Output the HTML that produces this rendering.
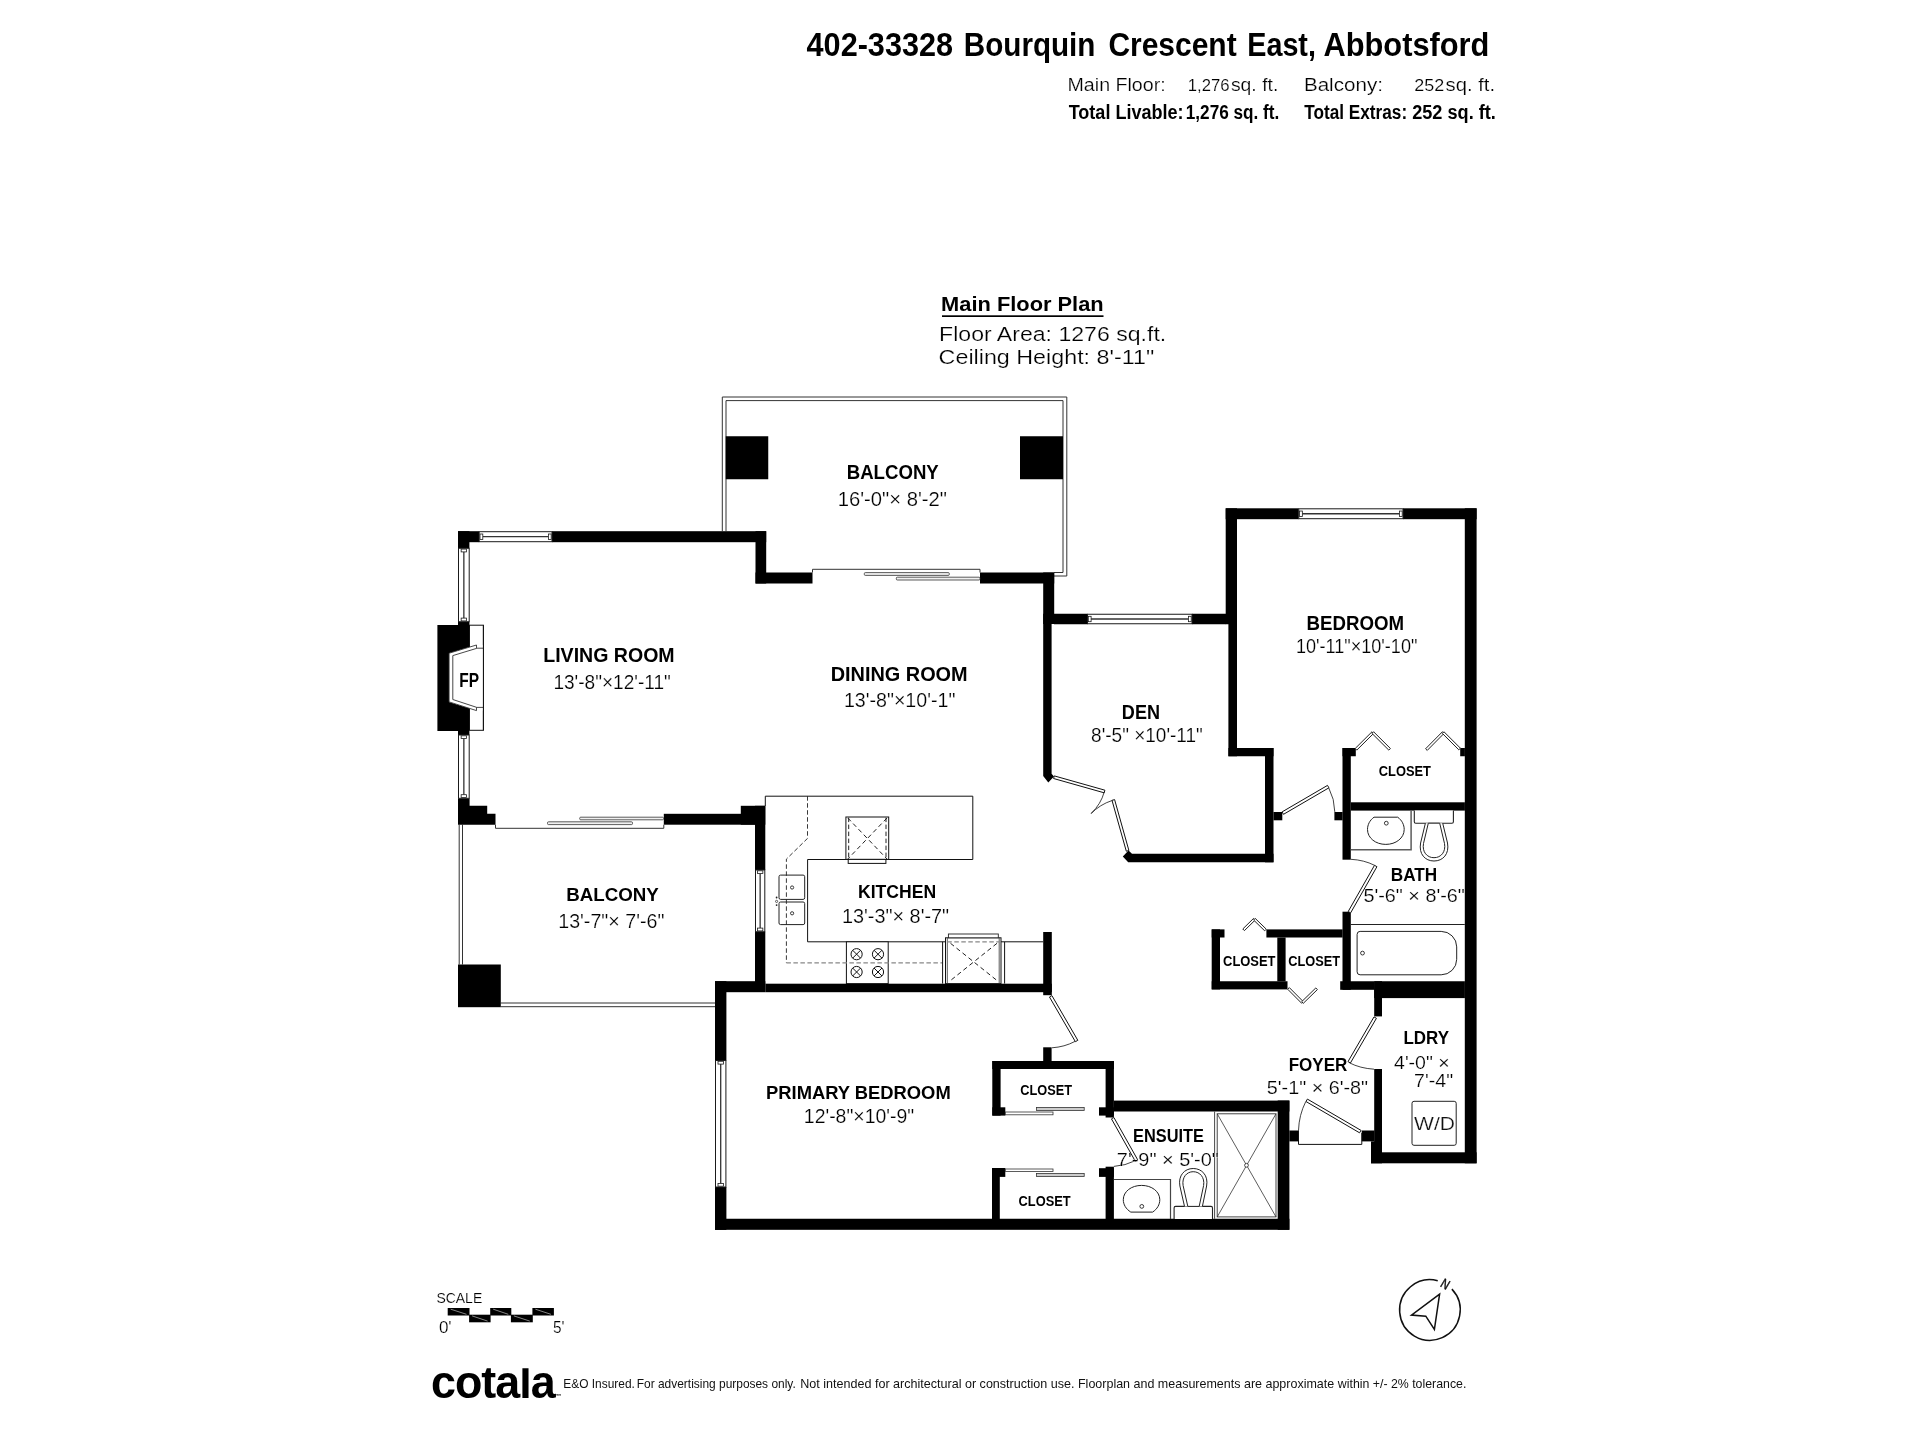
<!DOCTYPE html>
<html lang="en"><head><meta charset="utf-8"><title>402-33328 Bourquin Crescent East, Abbotsford</title>
<style>
html,body{margin:0;padding:0;background:#fff;}
body{width:1920px;height:1440px;overflow:hidden;}
svg{display:block;font-family:"Liberation Sans",sans-serif;will-change:transform;}
</style></head><body>
<svg width="1920" height="1440" viewBox="0 0 1920 1440">
<rect width="1920" height="1440" fill="#fff"/>
<g id="header">
<text x="806.59" y="56.3" font-size="32.8" font-weight="700" textLength="146.42" lengthAdjust="spacingAndGlyphs" fill="#000" text-anchor="start" >402-33328</text>
<text x="963.83" y="56.3" font-size="32.8" font-weight="700" textLength="131.60" lengthAdjust="spacingAndGlyphs" fill="#000" text-anchor="start" >Bourquin</text>
<text x="1108.40" y="56.3" font-size="32.8" font-weight="700" textLength="128.25" lengthAdjust="spacingAndGlyphs" fill="#000" text-anchor="start" >Crescent</text>
<text x="1247.26" y="56.3" font-size="32.8" font-weight="700" textLength="68.66" lengthAdjust="spacingAndGlyphs" fill="#000" text-anchor="start" >East,</text>
<text x="1323.51" y="56.3" font-size="32.8" font-weight="700" textLength="165.92" lengthAdjust="spacingAndGlyphs" fill="#000" text-anchor="start" >Abbotsford</text>
<text x="1067.51" y="91.0" font-size="19" stroke="#fff" stroke-width="0.20" textLength="98.17" lengthAdjust="spacingAndGlyphs" fill="#000" text-anchor="start" >Main Floor:</text>
<text x="1187.74" y="91.0" font-size="17" stroke="#fff" stroke-width="0.18" textLength="41.86" lengthAdjust="spacingAndGlyphs" fill="#000" text-anchor="start" >1,276</text>
<text x="1230.93" y="91.0" font-size="19" stroke="#fff" stroke-width="0.20" textLength="47.35" lengthAdjust="spacingAndGlyphs" fill="#000" text-anchor="start" >sq. ft.</text>
<text x="1303.93" y="91.0" font-size="19" stroke="#fff" stroke-width="0.20" textLength="78.98" lengthAdjust="spacingAndGlyphs" fill="#000" text-anchor="start" >Balcony:</text>
<text x="1414.20" y="91.0" font-size="17" stroke="#fff" stroke-width="0.18" textLength="30.00" lengthAdjust="spacingAndGlyphs" fill="#000" text-anchor="start" >252</text>
<text x="1445.64" y="91.0" font-size="19" stroke="#fff" stroke-width="0.20" textLength="49.45" lengthAdjust="spacingAndGlyphs" fill="#000" text-anchor="start" >sq. ft.</text>
<text x="1068.66" y="118.8" font-size="20" font-weight="700" textLength="114.94" lengthAdjust="spacingAndGlyphs" fill="#000" text-anchor="start" >Total Livable:</text>
<text x="1185.79" y="118.8" font-size="20" font-weight="700" textLength="93.48" lengthAdjust="spacingAndGlyphs" fill="#000" text-anchor="start" >1,276 sq. ft.</text>
<text x="1304.23" y="118.8" font-size="20" font-weight="700" textLength="102.90" lengthAdjust="spacingAndGlyphs" fill="#000" text-anchor="start" >Total Extras:</text>
<text x="1412.19" y="118.8" font-size="20" font-weight="700" textLength="83.63" lengthAdjust="spacingAndGlyphs" fill="#000" text-anchor="start" >252 sq. ft.</text>
</g>
<g id="plan-title">
<text x="941.12" y="311.0" font-size="20.5" font-weight="700" textLength="162.56" lengthAdjust="spacingAndGlyphs" fill="#000" text-anchor="start" >Main Floor Plan</text>
<rect x="942.00" y="315.30" width="161.50" height="1.70" fill="#000"/>
<text x="939.14" y="340.7" font-size="20.5" stroke="#fff" stroke-width="0.22" textLength="227.12" lengthAdjust="spacingAndGlyphs" fill="#000" text-anchor="start" >Floor Area: 1276 sq.ft.</text>
<text x="938.64" y="363.7" font-size="20.5" stroke="#fff" stroke-width="0.22" textLength="215.53" lengthAdjust="spacingAndGlyphs" fill="#000" text-anchor="start" >Ceiling Height: 8'-11"</text>
</g>
<g id="rails">
<polyline points="722.30,531.20 722.30,397.00 1066.80,397.00 1066.80,576.00 1054.00,576.00" fill="none" stroke="#333" stroke-width="1" />
<polyline points="726.00,531.20 726.00,400.60 1063.00,400.60 1063.00,572.50 1054.00,572.50" fill="none" stroke="#333" stroke-width="1" />
<line x1="459.20" y1="824.70" x2="459.20" y2="964.50" stroke="#333" stroke-width="1" />
<line x1="462.50" y1="824.70" x2="462.50" y2="964.50" stroke="#333" stroke-width="1" />
<line x1="500.80" y1="1003.00" x2="715.00" y2="1003.00" stroke="#333" stroke-width="1" />
<line x1="500.80" y1="1006.70" x2="715.00" y2="1006.70" stroke="#333" stroke-width="1" />
</g>
<g id="walls" fill="#000">
<rect x="725.75" y="436.25" width="42.50" height="43.00" fill="#000"/>
<rect x="1020.00" y="436.25" width="43.00" height="43.00" fill="#000"/>
<rect x="458.00" y="964.50" width="42.80" height="42.70" fill="#000"/>
<rect x="458.00" y="531.20" width="21.20" height="11.00" fill="#000"/>
<rect x="458.00" y="531.20" width="11.40" height="17.10" fill="#000"/>
<rect x="552.00" y="531.20" width="214.20" height="11.00" fill="#000"/>
<rect x="755.50" y="531.20" width="10.70" height="52.30" fill="#000"/>
<rect x="755.50" y="572.50" width="57.00" height="11.00" fill="#000"/>
<rect x="980.00" y="572.50" width="74.20" height="11.00" fill="#000"/>
<rect x="1043.20" y="572.50" width="11.00" height="51.50" fill="#000"/>
<polygon points="1043.20,613.75 1051.60,613.75 1051.60,773.75 1054.00,776.40 1048.30,782.50 1043.20,776.00" fill="#000"/>
<rect x="1054.00" y="613.75" width="33.50" height="10.50" fill="#000"/>
<rect x="1192.00" y="613.75" width="34.00" height="10.50" fill="#000"/>
<rect x="458.00" y="621.70" width="11.40" height="3.80" fill="#000"/>
<rect x="437.40" y="625.00" width="32.10" height="106.00" fill="#000"/>
<rect x="458.00" y="730.50" width="11.40" height="4.50" fill="#000"/>
<polygon points="458.00,798.30 469.60,798.30 469.60,805.80 487.20,805.80 487.20,813.80 495.50,813.80 495.50,824.70 458.00,824.70" fill="#000"/>
<rect x="663.80" y="813.80" width="91.20" height="10.90" fill="#000"/>
<rect x="740.80" y="805.80" width="24.50" height="18.90" fill="#000"/>
<rect x="755.00" y="805.80" width="10.30" height="64.20" fill="#000"/>
<rect x="755.00" y="931.70" width="10.30" height="52.30" fill="#000"/>
<rect x="1043.20" y="932.00" width="8.60" height="63.20" fill="#000"/>
<rect x="715.00" y="981.20" width="50.30" height="11.00" fill="#000"/>
<rect x="765.30" y="983.70" width="286.50" height="8.50" fill="#000"/>
<rect x="715.00" y="981.20" width="11.40" height="79.30" fill="#000"/>
<rect x="715.00" y="1187.00" width="11.40" height="42.90" fill="#000"/>
<rect x="715.00" y="1218.75" width="574.40" height="11.05" fill="#000"/>
<rect x="1277.70" y="1100.50" width="11.70" height="129.30" fill="#000"/>
<rect x="1113.90" y="1100.60" width="175.50" height="10.90" fill="#000"/>
<rect x="992.30" y="1061.00" width="121.60" height="8.00" fill="#000"/>
<rect x="992.30" y="1061.00" width="8.30" height="54.60" fill="#000"/>
<rect x="992.30" y="1107.30" width="13.00" height="8.30" fill="#000"/>
<rect x="1105.60" y="1061.00" width="8.30" height="56.50" fill="#000"/>
<rect x="1099.00" y="1107.30" width="14.90" height="8.30" fill="#000"/>
<rect x="1043.20" y="1047.30" width="8.40" height="14.20" fill="#000"/>
<rect x="1099.00" y="1168.20" width="14.90" height="8.70" fill="#000"/>
<rect x="1105.60" y="1166.70" width="8.30" height="52.30" fill="#000"/>
<rect x="992.00" y="1168.00" width="13.30" height="8.90" fill="#000"/>
<rect x="992.00" y="1168.00" width="7.80" height="51.00" fill="#000"/>
<rect x="1289.40" y="1130.50" width="9.00" height="10.90" fill="#000"/>
<rect x="1361.70" y="1130.50" width="12.80" height="10.90" fill="#000"/>
<rect x="1374.20" y="1069.00" width="7.80" height="83.50" fill="#000"/>
<rect x="1371.00" y="1141.40" width="11.00" height="21.90" fill="#000"/>
<rect x="1371.00" y="1152.30" width="105.60" height="11.00" fill="#000"/>
<rect x="1374.20" y="981.25" width="90.70" height="16.85" fill="#000"/>
<rect x="1374.20" y="981.25" width="7.80" height="35.15" fill="#000"/>
<rect x="1464.80" y="508.30" width="11.80" height="655.00" fill="#000"/>
<rect x="1225.70" y="508.30" width="73.05" height="10.90" fill="#000"/>
<rect x="1403.00" y="508.30" width="73.60" height="10.90" fill="#000"/>
<rect x="1225.70" y="508.30" width="11.30" height="115.95" fill="#000"/>
<rect x="1228.40" y="613.75" width="8.60" height="142.50" fill="#000"/>
<rect x="1228.40" y="748.00" width="45.10" height="8.25" fill="#000"/>
<rect x="1265.00" y="748.00" width="8.50" height="114.30" fill="#000"/>
<polygon points="1132.00,853.70 1273.50,853.70 1273.50,862.30 1128.20,862.30 1122.80,856.40 1128.50,850.50" fill="#000"/>
<rect x="1273.50" y="812.00" width="8.80" height="8.30" fill="#000"/>
<rect x="1334.40" y="812.00" width="8.20" height="8.30" fill="#000"/>
<rect x="1342.50" y="748.00" width="8.30" height="111.70" fill="#000"/>
<rect x="1342.50" y="748.00" width="13.30" height="8.25" fill="#000"/>
<rect x="1460.20" y="748.00" width="4.70" height="8.25" fill="#000"/>
<rect x="1350.80" y="802.30" width="114.10" height="8.30" fill="#000"/>
<rect x="1342.50" y="911.70" width="8.30" height="78.10" fill="#000"/>
<rect x="1340.20" y="981.25" width="34.10" height="8.55" fill="#000"/>
<rect x="1211.70" y="929.40" width="8.30" height="60.00" fill="#000"/>
<rect x="1211.70" y="929.40" width="12.80" height="8.10" fill="#000"/>
<rect x="1211.70" y="981.25" width="75.80" height="8.15" fill="#000"/>
<rect x="1266.40" y="929.40" width="76.20" height="8.10" fill="#000"/>
<rect x="1277.30" y="937.50" width="8.30" height="43.80" fill="#000"/>
</g>
<g id="windows">
<rect x="479.20" y="531.70" width="72.80" height="10.00" fill="#fff" stroke="#1a1a1a" stroke-width="1" rx="0" />
<line x1="482.70" y1="536.70" x2="548.50" y2="536.70" stroke="#333" stroke-width="1.3" />
<rect x="480.00" y="534.00" width="2.80" height="5.40" fill="#fff" stroke="#1a1a1a" stroke-width="0.8" rx="0" />
<rect x="548.40" y="534.00" width="2.80" height="5.40" fill="#fff" stroke="#1a1a1a" stroke-width="0.8" rx="0" />
<rect x="458.50" y="548.30" width="10.70" height="73.40" fill="#fff" stroke="#1a1a1a" stroke-width="1" rx="0" />
<line x1="463.85" y1="551.80" x2="463.85" y2="618.20" stroke="#333" stroke-width="1.3" />
<rect x="461.15" y="549.10" width="5.40" height="2.80" fill="#fff" stroke="#1a1a1a" stroke-width="0.8" rx="0" />
<rect x="461.15" y="618.10" width="5.40" height="2.80" fill="#fff" stroke="#1a1a1a" stroke-width="0.8" rx="0" />
<rect x="458.50" y="735.00" width="10.70" height="63.30" fill="#fff" stroke="#1a1a1a" stroke-width="1" rx="0" />
<line x1="463.85" y1="738.50" x2="463.85" y2="794.80" stroke="#333" stroke-width="1.3" />
<rect x="461.15" y="735.80" width="5.40" height="2.80" fill="#fff" stroke="#1a1a1a" stroke-width="0.8" rx="0" />
<rect x="461.15" y="794.70" width="5.40" height="2.80" fill="#fff" stroke="#1a1a1a" stroke-width="0.8" rx="0" />
<rect x="1087.50" y="614.25" width="104.50" height="9.50" fill="#fff" stroke="#1a1a1a" stroke-width="1" rx="0" />
<line x1="1091.00" y1="619.00" x2="1188.50" y2="619.00" stroke="#333" stroke-width="1.3" />
<rect x="1088.30" y="616.30" width="2.80" height="5.40" fill="#fff" stroke="#1a1a1a" stroke-width="0.8" rx="0" />
<rect x="1188.40" y="616.30" width="2.80" height="5.40" fill="#fff" stroke="#1a1a1a" stroke-width="0.8" rx="0" />
<rect x="1298.75" y="508.80" width="104.25" height="9.90" fill="#fff" stroke="#1a1a1a" stroke-width="1" rx="0" />
<line x1="1302.25" y1="513.75" x2="1399.50" y2="513.75" stroke="#333" stroke-width="1.3" />
<rect x="1299.55" y="511.05" width="2.80" height="5.40" fill="#fff" stroke="#1a1a1a" stroke-width="0.8" rx="0" />
<rect x="1399.40" y="511.05" width="2.80" height="5.40" fill="#fff" stroke="#1a1a1a" stroke-width="0.8" rx="0" />
<rect x="755.50" y="870.00" width="9.30" height="61.70" fill="#fff" stroke="#1a1a1a" stroke-width="1" rx="0" />
<line x1="760.15" y1="873.50" x2="760.15" y2="928.20" stroke="#333" stroke-width="1.3" />
<rect x="757.45" y="870.80" width="5.40" height="2.80" fill="#fff" stroke="#1a1a1a" stroke-width="0.8" rx="0" />
<rect x="757.45" y="928.10" width="5.40" height="2.80" fill="#fff" stroke="#1a1a1a" stroke-width="0.8" rx="0" />
<rect x="715.50" y="1060.50" width="10.40" height="126.50" fill="#fff" stroke="#1a1a1a" stroke-width="1" rx="0" />
<line x1="720.70" y1="1064.00" x2="720.70" y2="1183.50" stroke="#333" stroke-width="1.3" />
<rect x="718.00" y="1061.30" width="5.40" height="2.80" fill="#fff" stroke="#1a1a1a" stroke-width="0.8" rx="0" />
<rect x="718.00" y="1183.40" width="5.40" height="2.80" fill="#fff" stroke="#1a1a1a" stroke-width="0.8" rx="0" />
</g>
<g id="fireplace">
<rect x="469.50" y="625.20" width="13.90" height="105.10" fill="#fff" stroke="#111" stroke-width="1" rx="0" />
<polygon points="476.50,645.00 449.10,653.20 449.10,701.90 476.50,710.60 483.00,710.60 483.00,645.00" fill="#fff"/>
<rect x="469.50" y="648.40" width="13.40" height="58.90" fill="#fff"/>
<polygon points="476.50,645.00 449.10,653.20 449.10,701.90 476.50,710.60 476.50,707.30 452.80,699.50 452.80,655.60 476.50,648.40" fill="#fff" stroke="#333" stroke-width="0.9" />
<line x1="476.50" y1="648.20" x2="483.40" y2="648.20" stroke="#333" stroke-width="0.9" />
<line x1="476.50" y1="707.40" x2="483.40" y2="707.40" stroke="#333" stroke-width="0.9" />
<line x1="483.40" y1="625.20" x2="483.40" y2="730.30" stroke="#111" stroke-width="1" />
<text x="459.33" y="686.7" font-size="20.2" font-weight="700" textLength="19.77" lengthAdjust="spacingAndGlyphs" fill="#000" text-anchor="start" >FP</text>
</g>
<g id="sliders">
<polyline points="812.50,572.50 812.50,569.30 980.00,569.30 980.00,572.50" fill="none" stroke="#333" stroke-width="1" />
<rect x="864.30" y="572.60" width="85.00" height="2.80" fill="#f0f0f0" stroke="#333" stroke-width="0.8" rx="1" />
<rect x="896.30" y="577.20" width="83.70" height="2.80" fill="#f0f0f0" stroke="#333" stroke-width="0.8" rx="1" />
<polyline points="495.50,824.70 495.50,828.30 663.80,828.30 663.80,824.70" fill="none" stroke="#333" stroke-width="1" />
<rect x="579.70" y="817.20" width="83.80" height="2.60" fill="#f0f0f0" stroke="#333" stroke-width="0.8" rx="1" />
<rect x="547.50" y="821.80" width="85.00" height="2.80" fill="#f0f0f0" stroke="#333" stroke-width="0.8" rx="1" />
<rect x="1036.60" y="1107.40" width="47.60" height="3.00" fill="#ccc" stroke="#333" stroke-width="0.8" rx="0" />
<rect x="1005.30" y="1112.00" width="47.70" height="2.80" fill="#fff" stroke="#333" stroke-width="0.8" rx="0" />
<rect x="1005.30" y="1169.00" width="47.70" height="2.60" fill="#fff" stroke="#333" stroke-width="0.8" rx="0" />
<rect x="1036.60" y="1173.50" width="47.60" height="2.90" fill="#ccc" stroke="#333" stroke-width="0.8" rx="0" />
</g>
<g id="doors">
<polygon points="1054.30,775.90 1104.90,790.20 1104.17,792.80 1053.57,778.50" fill="#fff" stroke="#111" stroke-width="1.0" />
<polygon points="1128.90,850.50 1114.60,799.60 1112.00,800.33 1126.30,851.23" fill="#fff" stroke="#111" stroke-width="1.0" />
<path d="M1104.2,792.0 Q1101,804 1091.1,813.5" fill="none" stroke="#111" stroke-width="0.8" />
<path d="M1112.1,800.5 Q1100,804.5 1091.1,813.5" fill="none" stroke="#111" stroke-width="0.8" />
<polygon points="1282.10,811.90 1327.50,785.40 1328.91,787.82 1283.51,814.32" fill="#fff" stroke="#111" stroke-width="1.0" />
<path d="M1328.75,787.9 Q1334.6,799 1334.8,811.9" fill="none" stroke="#111" stroke-width="0.8" />
<polygon points="1348.20,911.50 1374.50,865.30 1376.93,866.69 1350.63,912.89" fill="#fff" stroke="#111" stroke-width="1.0" />
<path d="M1350.9,859.3 Q1364,860 1374.5,865.3" fill="none" stroke="#111" stroke-width="0.8" />
<polygon points="1374.00,1016.90 1348.00,1061.60 1350.42,1063.01 1376.42,1018.31" fill="#fff" stroke="#111" stroke-width="1.0" />
<path d="M1349.4,1062.8 Q1360,1068.3 1374,1069.2" fill="none" stroke="#111" stroke-width="0.8" />
<polygon points="1361.00,1130.40 1307.40,1099.10 1305.99,1101.52 1359.59,1132.82" fill="#fff" stroke="#111" stroke-width="1.0" />
<path d="M1305.8,1101.5 Q1299,1115 1298.5,1130.4" fill="none" stroke="#111" stroke-width="0.8" />
<polyline points="1298.50,1130.40 1298.50,1144.40 1361.80,1144.40 1361.80,1133.00" fill="none" stroke="#111" stroke-width="1" />
<polygon points="1051.90,995.60 1077.80,1040.30 1075.38,1041.70 1049.48,997.00" fill="#fff" stroke="#111" stroke-width="1.0" />
<path d="M1075,1041.4 Q1064.5,1047 1051.9,1047.8" fill="none" stroke="#111" stroke-width="0.8" />
<polygon points="1113.90,1117.50 1137.80,1160.00 1135.36,1161.37 1111.46,1118.87" fill="#fff" stroke="#111" stroke-width="1.0" />
<path d="M1135,1160.8 Q1125.5,1165.6 1113.9,1166.4" fill="none" stroke="#111" stroke-width="0.8" />
<polygon points="1355.19,748.48 1371.99,731.78 1373.61,733.42 1356.81,750.12" fill="#fff" stroke="#222" stroke-width="1" />
<polygon points="1373.61,731.78 1390.41,748.48 1388.79,750.12 1371.99,733.42" fill="#fff" stroke="#222" stroke-width="1" />
<polygon points="1425.58,748.79 1442.38,731.79 1444.02,733.41 1427.22,750.41" fill="#fff" stroke="#222" stroke-width="1" />
<polygon points="1444.01,731.79 1460.41,748.19 1458.79,749.81 1442.39,733.41" fill="#fff" stroke="#222" stroke-width="1" />
<polygon points="1242.79,928.98 1253.59,918.38 1255.21,920.02 1244.41,930.62" fill="#fff" stroke="#222" stroke-width="1" />
<polygon points="1255.20,918.38 1266.30,929.18 1264.70,930.82 1253.60,920.02" fill="#fff" stroke="#222" stroke-width="1" />
<polygon points="1289.32,987.59 1303.32,1001.69 1301.68,1003.31 1287.68,989.21" fill="#fff" stroke="#222" stroke-width="1" />
<polygon points="1301.70,1001.68 1315.80,987.93 1317.40,989.57 1303.30,1003.32" fill="#fff" stroke="#222" stroke-width="1" />
</g>
<g id="kitchen">
<polyline points="765.30,796.20 972.80,796.20 972.80,859.50 807.60,859.50 807.60,941.80 1043.20,941.80" fill="none" stroke="#111" stroke-width="1" />
<line x1="765.30" y1="796.20" x2="765.30" y2="806.00" stroke="#111" stroke-width="1" />
<rect x="845.90" y="817.00" width="42.80" height="42.40" fill="#fff" stroke="#111" stroke-width="1" rx="0" />
<rect x="848.20" y="859.40" width="37.70" height="4.00" fill="#fff" stroke="#111" stroke-width="1" rx="0" />
<line x1="848.70" y1="817.60" x2="848.70" y2="858.80" stroke="#222" stroke-width="1" stroke-dasharray="4.5 2.5"/>
<line x1="886.00" y1="817.60" x2="886.00" y2="858.80" stroke="#222" stroke-width="1" stroke-dasharray="4.5 2.5"/>
<line x1="847.80" y1="818.00" x2="887.00" y2="859.00" stroke="#222" stroke-width="1" stroke-dasharray="4.5 3.2"/>
<line x1="887.00" y1="818.00" x2="847.80" y2="859.00" stroke="#222" stroke-width="1" stroke-dasharray="4.5 3.2"/>
<rect x="779.00" y="875.10" width="25.70" height="24.30" fill="#fff" stroke="#222" stroke-width="1" rx="1.6" />
<rect x="779.00" y="902.00" width="25.70" height="22.60" fill="#fff" stroke="#222" stroke-width="1" rx="1.6" />
<circle cx="792.1" cy="887.5" r="1.6" fill="#fff" stroke="#222" stroke-width="0.9"/>
<circle cx="792.1" cy="913.3" r="1.6" fill="#fff" stroke="#222" stroke-width="0.9"/>
<circle cx="776.6" cy="897.5" r="0.9" fill="#222"/><circle cx="776.6" cy="905.1" r="0.9" fill="#222"/><circle cx="776.6" cy="901.4" r="1.1" fill="#fff" stroke="#222" stroke-width="0.7"/>
<rect x="846.40" y="941.80" width="41.80" height="41.80" fill="#fff" stroke="#111" stroke-width="1" rx="0" />
<circle cx="856.6" cy="954.2" r="5.6" fill="none" stroke="#111" stroke-width="1"/>
<line x1="852.60" y1="950.20" x2="860.60" y2="958.20" stroke="#111" stroke-width="1" />
<line x1="860.60" y1="950.20" x2="852.60" y2="958.20" stroke="#111" stroke-width="1" />
<circle cx="856.6" cy="972" r="5.6" fill="none" stroke="#111" stroke-width="1"/>
<line x1="852.60" y1="968.00" x2="860.60" y2="976.00" stroke="#111" stroke-width="1" />
<line x1="860.60" y1="968.00" x2="852.60" y2="976.00" stroke="#111" stroke-width="1" />
<circle cx="878" cy="954.2" r="5.6" fill="none" stroke="#111" stroke-width="1"/>
<line x1="874.00" y1="950.20" x2="882.00" y2="958.20" stroke="#111" stroke-width="1" />
<line x1="882.00" y1="950.20" x2="874.00" y2="958.20" stroke="#111" stroke-width="1" />
<circle cx="878" cy="972" r="5.6" fill="none" stroke="#111" stroke-width="1"/>
<line x1="874.00" y1="968.00" x2="882.00" y2="976.00" stroke="#111" stroke-width="1" />
<line x1="882.00" y1="968.00" x2="874.00" y2="976.00" stroke="#111" stroke-width="1" />
<polyline points="807.50,796.20 807.50,838.40 786.40,859.10 786.40,962.90" fill="none" stroke="#222" stroke-width="0.9" stroke-dasharray="4.5 2.5"/>
<line x1="786.40" y1="962.90" x2="942.60" y2="962.90" stroke="#888" stroke-width="1.3" stroke-dasharray="4.5 2.5"/>
<line x1="942.60" y1="941.80" x2="942.60" y2="983.60" stroke="#111" stroke-width="1" />
<line x1="1004.60" y1="941.80" x2="1004.60" y2="983.60" stroke="#111" stroke-width="1" />
<rect x="945.50" y="937.80" width="55.50" height="45.80" fill="#fff" stroke="#111" stroke-width="1" rx="0" />
<line x1="947.30" y1="937.80" x2="947.30" y2="983.60" stroke="#333" stroke-width="0.8" />
<line x1="999.20" y1="937.80" x2="999.20" y2="983.60" stroke="#333" stroke-width="0.8" />
<rect x="948.40" y="934.00" width="49.90" height="3.80" fill="#fff" stroke="#222" stroke-width="0.9" rx="0" />
<line x1="947.30" y1="941.80" x2="999.20" y2="941.80" stroke="#888" stroke-width="1.3" stroke-dasharray="4.5 2.5"/>
<line x1="950.50" y1="943.30" x2="997.00" y2="980.50" stroke="#222" stroke-width="1" stroke-dasharray="4.5 3.2"/>
<line x1="997.00" y1="943.30" x2="950.50" y2="980.50" stroke="#222" stroke-width="1" stroke-dasharray="4.5 3.2"/>
</g>
<g id="fixtures">
<polyline points="1350.80,849.70 1411.10,849.70 1411.10,810.60" fill="none" stroke="#5c5c5c" stroke-width="1.5" />
<path d="M1374,817.2 H1397.7 C1402,820.3 1404.2,824.8 1404.2,829.5 C1404.2,838 1396,844.4 1385.8,844.4 C1375.6,844.4 1367.5,838 1367.5,829.5 C1367.5,824.8 1369.7,820.3 1374,817.2Z" fill="#fff" stroke="#222" stroke-width="1" />
<circle cx="1386.3" cy="823.2" r="1.9" fill="#fff" stroke="#222" stroke-width="0.9"/>
<path d="M1414.3,810.6 V821.7 Q1414.3,823.2 1415.8,823.2 H1451.9 Q1453.4,823.2 1453.4,821.7 V810.6" fill="#fff" stroke="#222" stroke-width="1.1" />
<path d="M1425.4,823.2 L1420.6,843 C1418.6,854 1425,861 1434,861 C1443,861 1449.5,854 1447.5,843 L1442.7,823.2" fill="#fff" stroke="#222" stroke-width="1" />
<path d="M1428.3,823.2 L1423.5,843.5 C1422,852 1427,857.7 1434,857.7 C1441,857.7 1446,852 1444.5,843.5 L1439.7,823.2Z" fill="#fff" stroke="#222" stroke-width="1" />
<line x1="1350.80" y1="924.50" x2="1464.80" y2="924.50" stroke="#222" stroke-width="1" />
<path d="M1360.1,931.4 H1441.2 A15.5,15.5 0 0 1 1456.7,946.9 V959.3 A15.5,15.5 0 0 1 1441.2,974.8 H1360.1 Q1357.1,974.8 1357.1,971.8 V934.4 Q1357.1,931.4 1360.1,931.4Z" fill="#fff" stroke="#222" stroke-width="1" />
<circle cx="1362.5" cy="953.1" r="1.9" fill="#fff" stroke="#222" stroke-width="0.9"/>
<polyline points="1113.90,1179.50 1170.50,1179.50 1170.50,1219.00" fill="none" stroke="#444" stroke-width="1.2" />
<path d="M1130.8,1212.1 H1152.6 C1157.3,1209 1159.8,1204.5 1159.8,1199.7 C1159.8,1191.5 1151.7,1185.4 1141.6,1185.4 C1131.4,1185.4 1123.3,1191.5 1123.3,1199.7 C1123.3,1204.5 1125.9,1209 1130.8,1212.1Z" fill="#fff" stroke="#222" stroke-width="1" />
<circle cx="1141.8" cy="1206.4" r="1.9" fill="#fff" stroke="#222" stroke-width="0.9"/>
<path d="M1174.1,1219 V1207.9 Q1174.1,1206.4 1175.6,1206.4 H1211 Q1212.5,1206.4 1212.5,1207.9 V1219" fill="#fff" stroke="#222" stroke-width="1.1" />
<path d="M1184.5,1206.4 L1179.9,1186 C1178,1175.5 1184.5,1168.5 1193.2,1168.5 C1202,1168.5 1208.5,1175.5 1206.6,1186 L1202.4,1206.4" fill="#fff" stroke="#222" stroke-width="1" />
<path d="M1187.8,1206.4 L1183.1,1185.5 C1181.8,1177.5 1186.5,1171.7 1193.2,1171.7 C1200,1171.7 1204.9,1177.5 1203.6,1185.5 L1199.2,1206.4Z" fill="#fff" stroke="#222" stroke-width="1" />
<line x1="1214.60" y1="1111.50" x2="1214.60" y2="1218.75" stroke="#333" stroke-width="0.9" />
<rect x="1217.20" y="1113.80" width="58.80" height="103.10" fill="#fff" stroke="#333" stroke-width="0.9" rx="0" />
<line x1="1217.20" y1="1113.80" x2="1276.00" y2="1216.90" stroke="#333" stroke-width="0.8" />
<line x1="1276.00" y1="1113.80" x2="1217.20" y2="1216.90" stroke="#333" stroke-width="0.8" />
<circle cx="1246.5" cy="1165.3" r="1.9" fill="#fff" stroke="#222" stroke-width="0.8"/>
<rect x="1412.00" y="1101.30" width="44.20" height="44.00" fill="#fff" stroke="#222" stroke-width="1" rx="2" />
<text x="1414.03" y="1129.7" font-size="18.5" stroke="#fff" stroke-width="0.19" textLength="40.94" lengthAdjust="spacingAndGlyphs" fill="#111" text-anchor="start" >W/D</text>
</g>
<g id="labels">
<text x="846.72" y="479.2" font-size="20" font-weight="700" textLength="92.02" lengthAdjust="spacingAndGlyphs" fill="#000" text-anchor="start" >BALCONY</text>
<text x="837.71" y="505.7" font-size="19.5" stroke="#fff" stroke-width="0.21" textLength="109.28" lengthAdjust="spacingAndGlyphs" fill="#000" text-anchor="start" >16'-0"× 8'-2"</text>
<text x="543.26" y="662.3" font-size="20.4" font-weight="700" textLength="131.41" lengthAdjust="spacingAndGlyphs" fill="#000" text-anchor="start" >LIVING ROOM</text>
<text x="553.39" y="688.8" font-size="19.3" stroke="#fff" stroke-width="0.20" textLength="117.44" lengthAdjust="spacingAndGlyphs" fill="#000" text-anchor="start" >13'-8"×12'-11"</text>
<text x="830.66" y="680.5" font-size="20.2" font-weight="700" textLength="137.01" lengthAdjust="spacingAndGlyphs" fill="#000" text-anchor="start" >DINING ROOM</text>
<text x="843.88" y="707.0" font-size="19.5" stroke="#fff" stroke-width="0.21" textLength="111.50" lengthAdjust="spacingAndGlyphs" fill="#000" text-anchor="start" >13'-8"×10'-1"</text>
<text x="1121.87" y="718.7" font-size="20" font-weight="700" textLength="38.13" lengthAdjust="spacingAndGlyphs" fill="#000" text-anchor="start" >DEN</text>
<text x="1091.07" y="742.0" font-size="19.5" stroke="#fff" stroke-width="0.21" textLength="111.77" lengthAdjust="spacingAndGlyphs" fill="#000" text-anchor="start" >8'-5" ×10'-11"</text>
<text x="1306.48" y="629.8" font-size="19.3" font-weight="700" textLength="97.60" lengthAdjust="spacingAndGlyphs" fill="#000" text-anchor="start" >BEDROOM</text>
<text x="1295.98" y="653.3" font-size="19.5" stroke="#fff" stroke-width="0.21" textLength="121.39" lengthAdjust="spacingAndGlyphs" fill="#000" text-anchor="start" >10'-11"×10'-10"</text>
<text x="1378.84" y="775.8" font-size="14.4" font-weight="700" textLength="52.14" lengthAdjust="spacingAndGlyphs" fill="#000" text-anchor="start" >CLOSET</text>
<text x="1390.87" y="880.5" font-size="18.2" font-weight="700" textLength="46.37" lengthAdjust="spacingAndGlyphs" fill="#000" text-anchor="start" >BATH</text>
<text x="1363.46" y="902.3" font-size="19" stroke="#fff" stroke-width="0.20" textLength="101.41" lengthAdjust="spacingAndGlyphs" fill="#000" text-anchor="start" >5'-6" × 8'-6"</text>
<text x="1223.07" y="966.0" font-size="14.5" font-weight="700" textLength="52.42" lengthAdjust="spacingAndGlyphs" fill="#000" text-anchor="start" >CLOSET</text>
<text x="1288.25" y="966.0" font-size="14.5" font-weight="700" textLength="51.82" lengthAdjust="spacingAndGlyphs" fill="#000" text-anchor="start" >CLOSET</text>
<text x="1288.68" y="1070.6" font-size="17.5" font-weight="700" textLength="58.71" lengthAdjust="spacingAndGlyphs" fill="#000" text-anchor="start" >FOYER</text>
<text x="1266.81" y="1093.7" font-size="19" stroke="#fff" stroke-width="0.20" textLength="101.30" lengthAdjust="spacingAndGlyphs" fill="#000" text-anchor="start" >5'-1" × 6'-8"</text>
<text x="1403.50" y="1044.0" font-size="17.5" font-weight="700" textLength="45.49" lengthAdjust="spacingAndGlyphs" fill="#000" text-anchor="start" >LDRY</text>
<text x="1394.07" y="1069.0" font-size="19" stroke="#fff" stroke-width="0.20" textLength="55.59" lengthAdjust="spacingAndGlyphs" fill="#000" text-anchor="start" >4'-0" ×</text>
<text x="1414.12" y="1086.7" font-size="19" stroke="#fff" stroke-width="0.20" textLength="39.04" lengthAdjust="spacingAndGlyphs" fill="#000" text-anchor="start" >7'-4"</text>
<text x="857.95" y="897.5" font-size="18.6" font-weight="700" textLength="78.16" lengthAdjust="spacingAndGlyphs" fill="#000" text-anchor="start" >KITCHEN</text>
<text x="841.93" y="922.5" font-size="19.5" stroke="#fff" stroke-width="0.21" textLength="107.22" lengthAdjust="spacingAndGlyphs" fill="#000" text-anchor="start" >13'-3"× 8'-7"</text>
<text x="566.20" y="901.3" font-size="18.9" font-weight="700" textLength="92.63" lengthAdjust="spacingAndGlyphs" fill="#000" text-anchor="start" >BALCONY</text>
<text x="558.23" y="928.3" font-size="19.5" stroke="#fff" stroke-width="0.21" textLength="106.15" lengthAdjust="spacingAndGlyphs" fill="#000" text-anchor="start" >13'-7"× 7'-6"</text>
<text x="766.02" y="1098.7" font-size="18.85" font-weight="700" textLength="184.66" lengthAdjust="spacingAndGlyphs" fill="#000" text-anchor="start" >PRIMARY BEDROOM</text>
<text x="803.83" y="1123.3" font-size="19.5" stroke="#fff" stroke-width="0.21" textLength="110.34" lengthAdjust="spacingAndGlyphs" fill="#000" text-anchor="start" >12'-8"×10'-9"</text>
<text x="1020.37" y="1095.3" font-size="14" font-weight="700" textLength="51.71" lengthAdjust="spacingAndGlyphs" fill="#000" text-anchor="start" >CLOSET</text>
<text x="1018.57" y="1205.5" font-size="14" font-weight="700" textLength="52.02" lengthAdjust="spacingAndGlyphs" fill="#000" text-anchor="start" >CLOSET</text>
</g>
<g id="ensuite-label">
<text x="1133.06" y="1142.2" font-size="18.9" font-weight="700" textLength="70.84" lengthAdjust="spacingAndGlyphs" fill="#000" text-anchor="start" >ENSUITE</text>
<text x="1116.80" y="1166.4" font-size="19" stroke="#fff" stroke-width="0.20" textLength="102.04" lengthAdjust="spacingAndGlyphs" fill="#000" text-anchor="start" >7'-9" × 5'-0"</text>
</g>
<g id="scale">
<text x="436.39" y="1302.8" font-size="15" stroke="#fff" stroke-width="0.16" textLength="45.85" lengthAdjust="spacingAndGlyphs" fill="#000" text-anchor="start" >SCALE</text>
<rect x="447.70" y="1308.00" width="21.80" height="7.50" fill="#000"/>
<line x1="450.70" y1="1309.20" x2="466.50" y2="1314.30" stroke="#ddd" stroke-width="0.6" />
<rect x="469.10" y="1314.70" width="21.50" height="7.60" fill="#000"/>
<line x1="472.10" y1="1315.90" x2="487.60" y2="1321.10" stroke="#ddd" stroke-width="0.6" />
<rect x="490.20" y="1308.00" width="21.10" height="7.50" fill="#000"/>
<line x1="493.20" y1="1309.20" x2="508.30" y2="1314.30" stroke="#ddd" stroke-width="0.6" />
<rect x="510.90" y="1314.70" width="21.90" height="7.60" fill="#000"/>
<line x1="513.90" y1="1315.90" x2="529.80" y2="1321.10" stroke="#ddd" stroke-width="0.6" />
<rect x="532.40" y="1308.00" width="21.50" height="7.50" fill="#000"/>
<line x1="535.40" y1="1309.20" x2="550.90" y2="1314.30" stroke="#ddd" stroke-width="0.6" />
<text x="438.90" y="1332.6" font-size="16.8" stroke="#fff" stroke-width="0.18" textLength="12.72" lengthAdjust="spacingAndGlyphs" fill="#000" text-anchor="start" >0'</text>
<text x="552.91" y="1332.6" font-size="16.8" stroke="#fff" stroke-width="0.18" textLength="11.49" lengthAdjust="spacingAndGlyphs" fill="#000" text-anchor="start" >5'</text>
</g>
<g id="compass">
<path d="M1451.88,1289.14 A30.3,30.3 0 1 1 1437.74,1280.73" fill="none" stroke="#111" stroke-width="1.5" />
<polygon points="1439.60,1294.20 1411.50,1315.10 1425.80,1316.20 1434.40,1329.40" fill="none" stroke="#111" stroke-width="1.5" stroke-linejoin="miter"/>
<text x="1441.4" y="1288.7" font-size="13.6" fill="#111" stroke="#111" stroke-width="0.45" textLength="8" lengthAdjust="spacingAndGlyphs" transform="rotate(30.6 1445.4 1284)">N</text>
</g>
<g id="footer">
<clipPath id="logoclip"><rect x="425" y="1368.3" width="140" height="40"/></clipPath>
<text x="431.02" y="1398.0" font-size="45.6" font-weight="700" textLength="123.64" lengthAdjust="spacingAndGlyphs" fill="#000" text-anchor="start" letter-spacing="-1" clip-path="url(#logoclip)">cotala</text>
<text x="554.64" y="1398.2" font-size="6" font-weight="700" textLength="6.68" lengthAdjust="spacingAndGlyphs" fill="#000" text-anchor="start" >™</text>
<text x="563.27" y="1387.6" font-size="12.2" textLength="71.57" lengthAdjust="spacingAndGlyphs" fill="#111" text-anchor="start" >E&amp;O Insured.</text>
<text x="636.75" y="1387.6" font-size="12.2" textLength="158.98" lengthAdjust="spacingAndGlyphs" fill="#111" text-anchor="start" >For advertising purposes only.</text>
<text x="800.23" y="1387.6" font-size="12.2" textLength="274.31" lengthAdjust="spacingAndGlyphs" fill="#111" text-anchor="start" >Not intended for architectural or construction use.</text>
<text x="1077.99" y="1387.6" font-size="12.2" textLength="256.24" lengthAdjust="spacingAndGlyphs" fill="#111" text-anchor="start" >Floorplan and measurements are approximate</text>
<text x="1337.83" y="1387.6" font-size="12.2" textLength="128.53" lengthAdjust="spacingAndGlyphs" fill="#111" text-anchor="start" >within +/- 2% tolerance.</text>
</g>
</svg></body></html>
